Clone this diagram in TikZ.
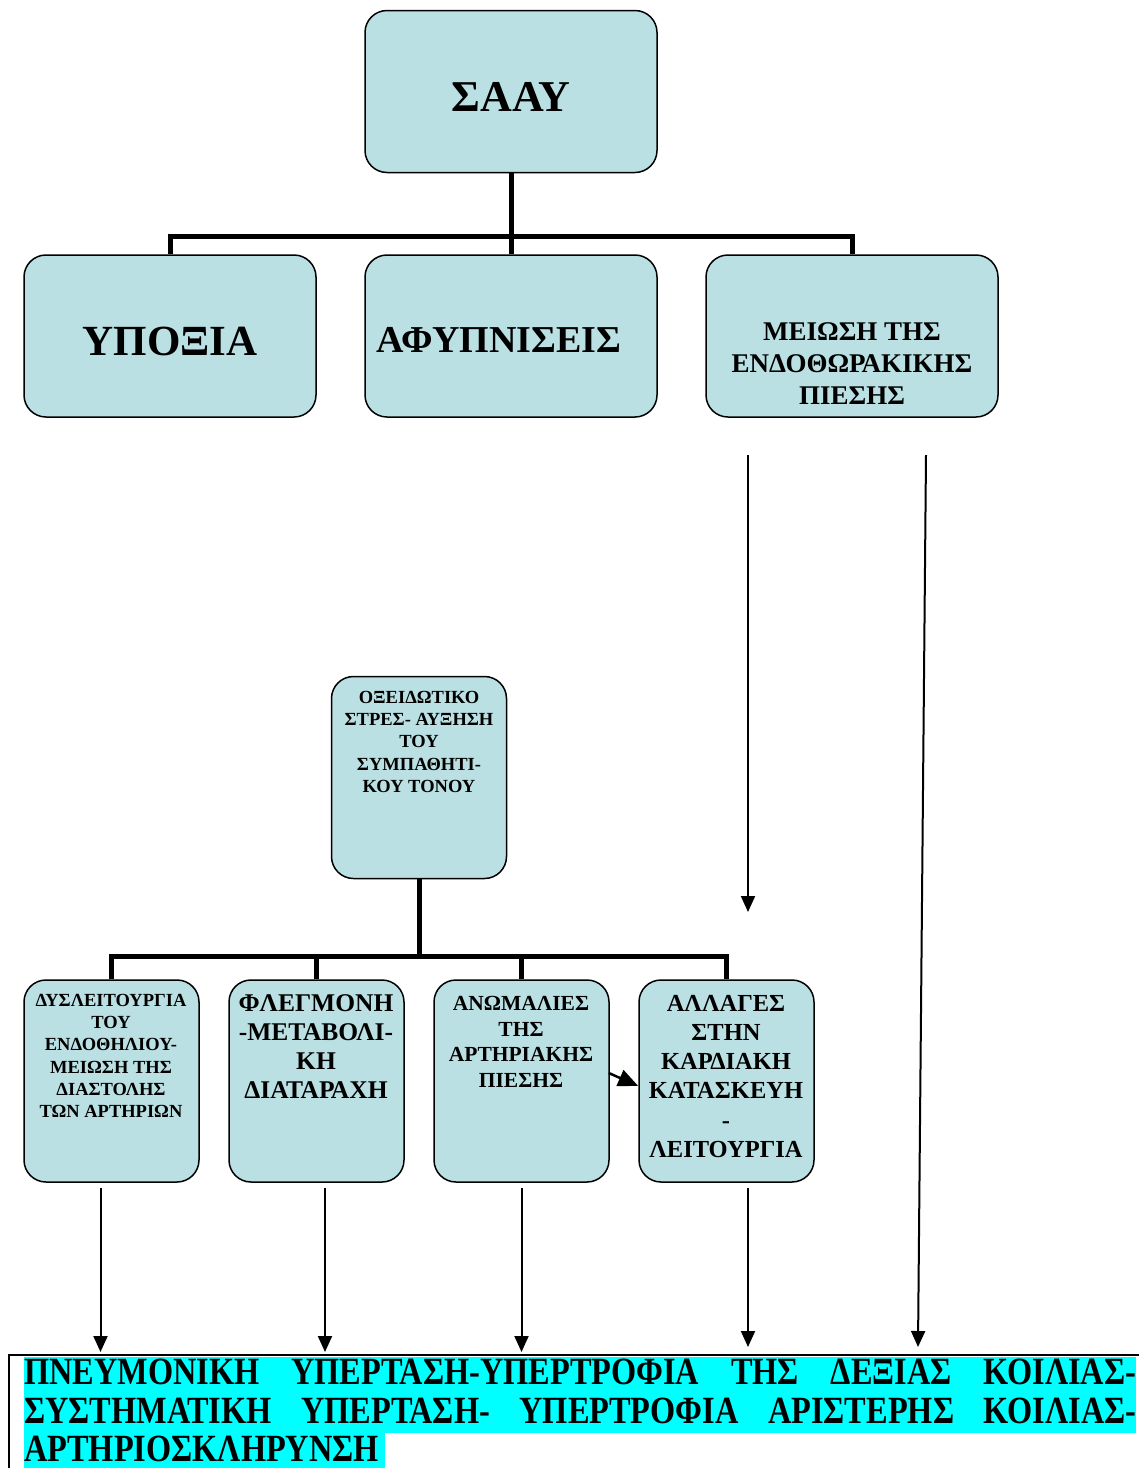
\documentclass[tikz,border=0pt]{standalone}
\usepackage{fontspec}
\setmainfont{Liberation Serif}
\newfontfamily\condfont[FakeStretch=0.84]{Liberation Serif}
\usetikzlibrary{arrows.meta}
\definecolor{boxblue}{RGB}{187,224,227}
\definecolor{marker}{RGB}{0,255,255}
\tikzset{
 box/.style={draw, line width=1.5pt, rounded corners=22pt, fill=boxblue, inner sep=0pt},
 bigbox/.style={box, minimum width=292pt, minimum height=162pt},
 smallbox/.style={box, minimum width=175pt, minimum height=202pt},
 bus/.style={line width=5pt},
 arr/.style={line width=2pt, -{Triangle[length=16pt,width=14pt]}},
 txt/.style={align=center, inner sep=0pt, font={\fontsize{#1}{#1}\selectfont\bfseries}}
}

\begin{document}
\begin{tikzpicture}[x=1pt,y=-1pt]
 \useasboundingbox (0,0) rectangle (1139,1468);
 % first level
 \node[bigbox] (saay) at (511,91.5) {};
 \node[bigbox] (hypox) at (170,336) {};
 \node[bigbox] (afyp) at (511,336) {};
 \node[bigbox] (meiosi) at (852,336) {};
 \node[txt=44] at (511,97) {ΣΑΑΥ};
 \node[txt=43] at (170,341) {ΥΠΟΞΙΑ};
 \node[txt=38] at (499,340) {ΑΦΥΠΝΙΣΕΙΣ};
 \node[txt=27, font={\fontsize{27}{32}\selectfont\bfseries}] at (852,364) {ΜΕΙΩΣΗ ΤΗΣ\\ΕΝΔΟΘΩΡΑΚΙΚΗΣ\\ΠΙΕΣΗΣ};
 \draw[bus] (saay.south) -- (afyp.north);
 \draw[bus] (hypox.north) -- ++(0,-18) -| (meiosi.north);
 % second level
 \node[smallbox] (oxid) at (419,777.5) {};
 \node[smallbox] (dys) at (111.5,1081) {};
 \node[smallbox] (fleg) at (316.5,1081) {};
 \node[smallbox] (anom) at (521.5,1081) {};
 \node[smallbox] (allag) at (726.5,1081) {};
 \node[txt=18.5, font={\fontsize{18.5}{22.2}\selectfont\bfseries}, anchor=north] at (419,691) {ΟΞΕΙΔΩΤΙΚΟ\\ΣΤΡΕΣ- ΑΥΞΗΣΗ\\ΤΟΥ\\ΣΥΜΠΑΘΗΤΙ-\\ΚΟΥ ΤΟΝΟΥ};
 \node[txt=18.5, font={\fontsize{18.5}{22.2}\selectfont\bfseries}, anchor=north] at (111,994) {ΔΥΣΛΕΙΤΟΥΡΓΙΑ\\ΤΟΥ\\ΕΝΔΟΘΗΛΙΟΥ-\\ΜΕΙΩΣΗ ΤΗΣ\\ΔΙΑΣΤΟΛΗΣ\\ΤΩΝ ΑΡΤΗΡΙΩΝ};
 \node[txt=25.5, font={\fontsize{25.5}{29}\selectfont\bfseries}, anchor=north] at (316,994) {ΦΛΕΓΜΟΝΗ\\-ΜΕΤΑΒΟΛΙ-\\ΚΗ\\ΔΙΑΤΑΡΑΧΗ};
 \node[txt=21.5, font={\fontsize{21.5}{25.7}\selectfont\bfseries}, anchor=north] at (521,996) {ΑΝΩΜΑΛΙΕΣ\\ΤΗΣ\\ΑΡΤΗΡΙΑΚΗΣ\\ΠΙΕΣΗΣ};
 \node[txt=24.5, font={\fontsize{24.5}{29.2}\selectfont\bfseries}, anchor=north] at (726,995) {ΑΛΛΑΓΕΣ\\ΣΤΗΝ\\ΚΑΡΔΙΑΚΗ\\ΚΑΤΑΣΚΕΥΗ\\-\\ΛΕΙΤΟΥΡΓΙΑ};
 \draw[bus] (oxid.south) -- ++(0,79);
 \draw[bus] (dys.north) -- ++(0,-23) -| (allag.north);
 \draw[bus] (fleg.north) -- ++(0,-23);
 \draw[bus] (anom.north) -- ++(0,-23);
 \draw[line width=2.5pt, -{Triangle[length=20pt,width=17pt]}] ([xshift=-1pt,yshift=8pt]anom.east) -- ([yshift=-5pt]allag.west);
 % result
 \coordinate (frame) at (9,1355);
 \fill[marker] (24,1357) rectangle (1136,1433);
 \fill[marker] (24,1433) rectangle (385,1468);
 \node[anchor=north west, inner sep=0pt, align=left, font={\condfont\fontsize{38.5}{38.5}\selectfont\bfseries}] (result) at (24,1359)
  {\makebox[1112pt][s]{ΠΝΕΥΜΟΝΙΚΗ ΥΠΕΡΤΑΣΗ-ΥΠΕΡΤΡΟΦΙΑ ΤΗΣ ΔΕΞΙΑΣ ΚΟΙΛΙΑΣ-}\\
   \makebox[1112pt][s]{ΣΥΣΤΗΜΑΤΙΚΗ ΥΠΕΡΤΑΣΗ- ΥΠΕΡΤΡΟΦΙΑ ΑΡΙΣΤΕΡΗΣ ΚΟΙΛΙΑΣ-}\\
   ΑΡΤΗΡΙΟΣΚΛΗΡΥΝΣΗ};
 \draw[line width=2pt] (1145,1355) -- (frame) -- (9,1472);
 % arrows
 \coordinate (m1) at (748,455);
 \coordinate (m1end) at (748,912);
 \coordinate (m2) at (926,455);
 \coordinate (m2end) at (918,1347);
 \draw[arr] (m1) -- (m1end);
 \draw[arr] (m2) -- (m2end);
 \draw[arr] ([xshift=-11pt,yshift=-5pt]dys.south) -- ([xshift=-11pt,yshift=3pt]dys.south |- frame);
 \draw[arr] ([xshift=8.5pt,yshift=-5pt]fleg.south) -- ([xshift=8.5pt,yshift=3pt]fleg.south |- frame);
 \draw[arr] ([yshift=-5pt]anom.south) -- ([yshift=3pt]anom.south |- frame);
 \draw[arr] ([xshift=21.5pt,yshift=-5pt]allag.south) -- ([xshift=21.5pt,yshift=8pt]allag.south |- frame);
\end{tikzpicture}
\end{document}
